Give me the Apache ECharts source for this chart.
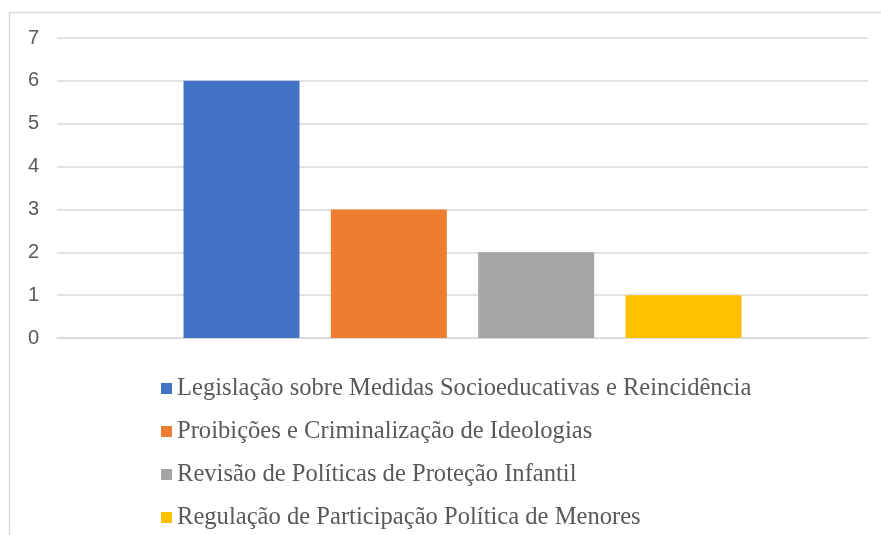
<!DOCTYPE html>
<html>
<head>
<meta charset="utf-8">
<script src="https://cdn.jsdelivr.net/npm/echarts@6/dist/echarts.min.js"></script>
<style>
  html, body { margin: 0; padding: 0; background: #fff; }
  #chart { width: 881px; height: 535px; }
</style>
</head>
<body>
<div id="chart"></div>
<script>
// dados do gráfico
const seriesNames = [
  'Legislação sobre Medidas Socioeducativas e Reincidência',
  'Proibições e Criminalização de Ideologias',
  'Revisão de Políticas de Proteção Infantil',
  'Regulação de Participação Política de Menores'
]
const seriesValues = [6, 3, 2, 1]
const seriesColors = ['#4472c4', '#ed7d31', '#a5a5a5', '#ffc000']
const categories = ['']
const yTicks = [0, 7, 1] // min, max, intervalo

const chart = echarts.init(document.getElementById('chart'))

const series = seriesNames.map((name, i) => ({
  name,
  type: 'bar',
  data: [seriesValues[i]],
  barWidth: 116,
  barGap: '27%',
  itemStyle: { color: seriesColors[i] }
}))

chart.setOption({
  animation: false,
  backgroundColor: '#ffffff',
  graphic: [{
    type: 'rect',
    shape: { x: 9.5, y: 12.5, width: 880, height: 540 },
    style: { fill: 'none', stroke: '#d9d9d9', lineWidth: 1.5 },
    silent: true
  }],
  grid: { left: 57, right: 13, top: 38, bottom: 197 },
  xAxis: {
    type: 'category',
    data: categories,
    axisLine: { show: true, lineStyle: { color: '#d9d9d9', width: 1.5 } },
    axisTick: { show: false },
    axisLabel: { show: false }
  },
  yAxis: {
    type: 'value',
    min: yTicks[0],
    max: yTicks[1],
    interval: yTicks[2],
    axisLine: { show: false },
    axisTick: { show: false },
    axisLabel: {
      color: '#595959',
      fontFamily: 'Liberation Sans',
      fontSize: 20,
      margin: 18
    },
    splitLine: { lineStyle: { color: '#d9d9d9', width: 1.5 } }
  },
  legend: {
    orient: 'vertical',
    left: 156,
    top: 371,
    itemWidth: 11,
    itemHeight: 11,
    itemGap: 18,
    icon: 'rect',
    textStyle: {
      color: '#595959',
      fontFamily: 'Liberation Serif',
      fontSize: 24.6,
      lineHeight: 24,
      padding: [0, 0, 0, 0]
    },
    data: seriesNames
  },
  series
})
</script>
</body>
</html>
